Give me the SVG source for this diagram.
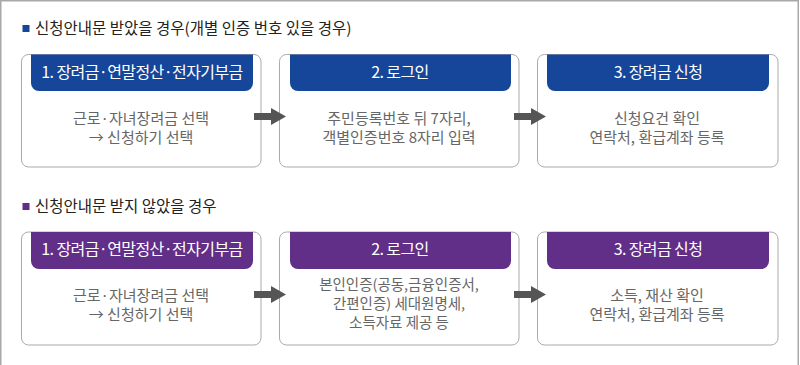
<svg xmlns="http://www.w3.org/2000/svg" width="800" height="365" viewBox="0 0 800 365">
<style>
.frame{fill:#fff;stroke:#a8a8a8;stroke-width:1.5}
.box{fill:#fff;stroke:#aaa;stroke-width:1}
.hb{fill:#164699}
.hp{fill:#612e88}
.ht{font-family:"Noto Sans CJK KR","Noto Sans",sans-serif;font-size:16px;letter-spacing:-0.6px;fill:#fff;text-anchor:middle}
.bt{font-family:"Noto Sans CJK KR","Noto Sans",sans-serif;font-size:15px;fill:#666;text-anchor:middle}
.bs{font-size:14.5px}
.tt{font-family:"Noto Sans CJK KR","Noto Sans",sans-serif;font-size:15.5px;fill:#222}
.arr{fill:#555}
</style>
<rect x="0.75" y="0.75" width="797.5" height="370" class="frame"/>
<g id="title1">
<rect x="22.5" y="25" width="7" height="7" fill="#164699"/>
<text x="35" y="34" class="tt">신청안내문 받았을 경우(개별 인증 번호 있을 경우)</text>
</g>
<g id="title2">
<rect x="22.5" y="203" width="7" height="7" fill="#612e88"/>
<text x="35" y="212" class="tt">신청안내문 받지 않았을 경우</text>
</g>
<g id="a1">
<rect x="21.5" y="54.5" width="239.5" height="112.5" rx="7" class="box"/>
<path d="M31 54.5H253V83a8 8 0 0 1-8 8H39a8 8 0 0 1-8-8Z" class="hb"/>
<text x="142" y="77.5" class="ht">1. 장려금·연말정산·전자기부금</text>
<text x="141" y="123.5" class="bt">근로·자녀장려금 선택</text>
<text x="141" y="142.5" class="bt">→ 신청하기 선택</text>
</g>
<g id="a2">
<rect x="279.5" y="54.5" width="239.5" height="112.5" rx="7" class="box"/>
<path d="M290 54.5H511V83a8 8 0 0 1-8 8H298a8 8 0 0 1-8-8Z" class="hb"/>
<text x="400" y="77.5" class="ht">2. 로그인</text>
<text x="399" y="123.5" class="bt">주민등록번호 뒤 7자리,</text>
<text x="399" y="142.5" class="bt">객별인증번호 8자리 입력</text>
</g>
<g id="a3">
<rect x="537.5" y="54.5" width="240.5" height="112.5" rx="7" class="box"/>
<path d="M547 54.5H769V83a8 8 0 0 1-8 8H555a8 8 0 0 1-8-8Z" class="hb"/>
<text x="658" y="77.5" class="ht">3. 장려금 신청</text>
<text x="657" y="123.5" class="bt">신청요건 확인</text>
<text x="657" y="142.5" class="bt">연락처, 환급계좌 등록</text>
</g>
<g id="b1">
<rect x="21.5" y="232" width="239.5" height="113" rx="7" class="box"/>
<path d="M31 232H253V261a8 8 0 0 1-8 8H39a8 8 0 0 1-8-8Z" class="hp"/>
<text x="142" y="255" class="ht">1. 장려금·연말정산·전자기부금</text>
<text x="141" y="300.5" class="bt">근로·자녀장려금 선택</text>
<text x="141" y="319.5" class="bt">→ 신청하기 선택</text>
</g>
<g id="b2">
<rect x="279.5" y="232" width="239.5" height="113" rx="7" class="box"/>
<path d="M290 232H511V261a8 8 0 0 1-8 8H298a8 8 0 0 1-8-8Z" class="hp"/>
<text x="400" y="255" class="ht">2. 로그인</text>
<text x="399" y="289.5" class="bt bs">본인인증(공동,금융인증서,</text>
<text x="399" y="308.5" class="bt bs">간편인증) 세대원명세,</text>
<text x="399" y="327.5" class="bt bs">소득자료 제공 등</text>
</g>
<g id="b3">
<rect x="537.5" y="232" width="240.5" height="113" rx="7" class="box"/>
<path d="M547 232H769V261a8 8 0 0 1-8 8H555a8 8 0 0 1-8-8Z" class="hp"/>
<text x="658" y="255" class="ht">3. 장려금 신청</text>
<text x="657" y="300.5" class="bt">소득, 재산 확인</text>
<text x="657" y="319.5" class="bt">연락처, 환급계좌 등록</text>
</g>
<g id="connectors">
<path d="M254 113H271V108L286 116.5L271 125V120H254Z" class="arr"/>
<path d="M514 113H531V108L546 116.5L531 125V120H514Z" class="arr"/>
<path d="M254 291H271V286L286 294.5L271 303V298H254Z" class="arr"/>
<path d="M514 291H531V286L546 294.5L531 303V298H514Z" class="arr"/>
</g>
</svg>
